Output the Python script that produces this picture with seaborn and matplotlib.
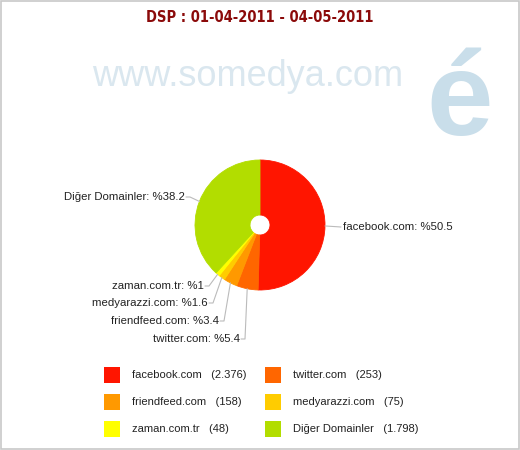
import numpy as np
import matplotlib
matplotlib.use("Agg")
import matplotlib.pyplot as plt
import seaborn as sns
from matplotlib.patches import Rectangle

sns.set_theme(style="white")
plt.rcParams['font.family'] = ['Liberation Sans', 'DejaVu Sans']

categories = ["facebook.com", "twitter.com", "friendfeed.com", "medyarazzi.com", "zaman.com.tr", "Diğer Domainler"]
values = [2376, 253, 158, 75, 48, 1798]
colors = ["#FF1500", "#FF6600", "#FF9900", "#FFCC00", "#FFFF00", "#B2DD00"]
title = "DSP : 01-04-2011 - 04-05-2011"

W, H = 520, 450
fig = plt.figure(figsize=(W / 100, H / 100), dpi=100)
ax = fig.add_axes([0, 0, 1, 1])

# frame
ax.add_patch(Rectangle((1, 1), W - 2, H - 2, fill=False, ec="#C8C8C8", lw=1.2))

# watermark
ax.text(248, H - 76, "www.somedya.com", ha="center", va="center", fontsize=26,
        color="#DAE7EF", family="Liberation Sans", zorder=0)
ax.text(460, H - 104, "é", ha="center", va="center", fontsize=86, fontweight="bold",
        color="#C9DEEA", family="Liberation Sans", zorder=0)

# title
ax.text(W / 2, H - 17, title, ha="center", va="center", fontsize=10.5,
        fontweight="bold", color="#8B0A0A", family=["DejaVu Sans"],
        fontstretch="condensed")

cx, cy, R, hole = 260, H - 225, 65, 10
wedges, _ = ax.pie(values, colors=colors, startangle=90, counterclock=False,
                   center=(cx, cy), radius=R,
                   wedgeprops=dict(width=R - hole, linewidth=0.6),
                   frame=True)
for w in wedges:
    w.set_edgecolor(w.get_facecolor())
ax.set_xlim(0, W)
ax.set_ylim(0, H)
ax.set_aspect('equal')
ax.axis('off')

total = sum(values)
pcts = [v / total * 100 for v in values]

def fmt_pct(p):
    s = f"{p:.1f}"
    if s.endswith(".0"):
        s = s[:-2]
    return s

label_pos = {
    0: (343, 227, "left"),
    1: (240, 339, "right"),
    2: (219, 321, "right"),
    3: (208, 303, "right"),
    4: (204, 286, "right"),
    5: (185, 197, "right"),
}
for i, w in enumerate(wedges):
    ang = np.deg2rad((w.theta1 + w.theta2) / 2)
    ex, ey = cx + R * np.cos(ang), cy + R * np.sin(ang)
    tx, ty, side = label_pos[i]
    ty = H - ty
    txt = f"{categories[i]}: %{fmt_pct(pcts[i])}"
    if side == "left":
        ax.plot([ex, tx - 2], [ey, ty], color="#BBBBBB", lw=0.8)
        ax.text(tx, ty, txt, ha="left", va="center", fontsize=8.2, color="#222222")
    else:
        knee = tx + 5
        ax.plot([ex, knee, tx + 1], [ey, ty, ty], color="#BBBBBB", lw=0.8)
        ax.text(tx, ty, txt, ha="right", va="center", fontsize=8.2, color="#222222")

def fmt_num(v):
    return f"{v:,}".replace(",", ".")

col_x = [104, 265]
row_y = [375, 402, 429]
for i, (c, v, col) in enumerate(zip(categories, values, colors)):
    x0 = col_x[i % 2]
    y0 = H - row_y[i // 2]
    ax.add_patch(Rectangle((x0, y0 - 8), 16, 16, color=col, lw=0))
    ax.text(x0 + 28, y0, f"{c}   ({fmt_num(v)})", ha="left", va="center",
            fontsize=8, color="#222222")

fig.savefig("out.png", dpi=100)
